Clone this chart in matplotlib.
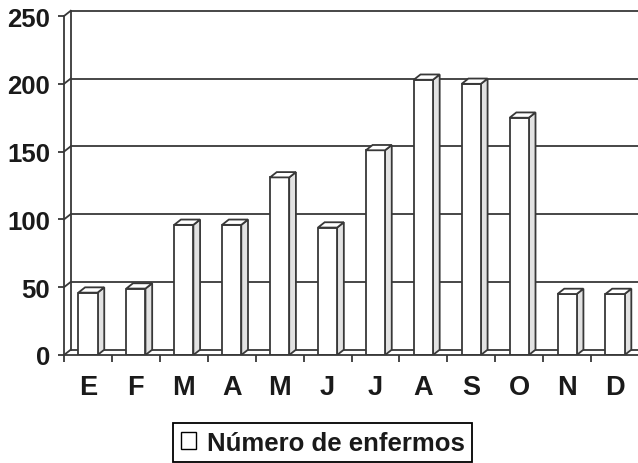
import matplotlib.pyplot as plt
from matplotlib.patches import Polygon, Patch
import numpy as np

plt.rcParams['font.family'] = ['Liberation Sans', 'DejaVu Sans']

months = ['E', 'F', 'M', 'A', 'M', 'J', 'J', 'A', 'S', 'O', 'N', 'D']
enfermos = [46, 49, 96, 96, 131, 94, 151, 203, 200, 175, 45, 45]
yticks = [0, 50, 100, 150, 200, 250]
serie = 'Número de enfermos'

line_col = '#383838'
side_col = '#e2e2e2'
lw = 1.3
dx, dy = 0.14, 3.9      # depth offset (x in categories, y in values)
half = 0.2              # half width of bar front face

fig = plt.figure(figsize=(6.38, 4.64), dpi=100)
ax = fig.add_axes([64 / 638, 108 / 464, 575 / 638, 349.8 / 464])
ax.set_xlim(0, 12)
ax.set_ylim(0, 258)

# back wall, floor and side wall
for v in yticks[1:]:
    ax.plot([dx, 12], [v + dy, v + dy], color=line_col, lw=lw, zorder=1, clip_on=False)
for v in yticks:
    ax.plot([0, dx], [v, v + dy], color=line_col, lw=lw, zorder=1, clip_on=False)
ax.plot([dx, 12], [dy, dy], color=line_col, lw=lw, zorder=1)
ax.plot([dx, dx], [dy, 250 + dy], color=line_col, lw=lw, zorder=1, clip_on=False)

# bars with a fake 3D look
x = np.arange(len(months)) + 0.5
ax.bar(x, enfermos, width=2 * half, color='white', edgecolor=line_col, lw=lw, zorder=3)
for c, v in zip(x, enfermos):
    side = [(c + half, 0), (c + half + dx, dy), (c + half + dx, v + dy), (c + half, v)]
    top = [(c - half, v), (c + half, v), (c + half + dx, v + dy), (c - half + dx, v + dy)]
    ax.add_patch(Polygon(side, closed=True, facecolor=side_col, edgecolor=line_col, lw=lw, zorder=2))
    ax.add_patch(Polygon(top, closed=True, facecolor='white', edgecolor=line_col, lw=lw, zorder=4))

# axes
for s in ['top', 'right']:
    ax.spines[s].set_visible(False)
ax.spines['left'].set_bounds(0, 250)
for s in ['left', 'bottom']:
    ax.spines[s].set_color(line_col)
    ax.spines[s].set_linewidth(lw)
    ax.spines[s].set_zorder(5)

ax.set_yticks(yticks)
ax.tick_params(axis='y', length=4, width=lw, color=line_col, pad=6, labelsize=18.5)
ax.set_xticks(x)
ax.set_xticklabels(months)
ax.set_xticks(np.arange(0, 13), minor=True)
ax.tick_params(axis='x', which='major', length=0, pad=14, labelsize=19.5)
ax.tick_params(axis='x', which='minor', length=5, width=lw, color=line_col)
for lab in ax.get_xticklabels() + ax.get_yticklabels():
    lab.set_fontweight('bold')
    lab.set_color('#1a1a1a')

handle = Patch(facecolor='white', edgecolor='black', lw=1.0)
leg = fig.legend([handle], [serie], loc='center', bbox_to_anchor=(0.506, 0.044),
                 fancybox=False, framealpha=1, edgecolor='black',
                 prop={'weight': 'bold', 'size': 18.5},
                 handlelength=0.6, handleheight=0.6, handletextpad=0.4,
                 borderpad=0.3, borderaxespad=0)
leg.get_frame().set_linewidth(1.3)
for t in leg.get_texts():
    t.set_color('#1a1a1a')

fig.savefig('out.png', dpi=100)
